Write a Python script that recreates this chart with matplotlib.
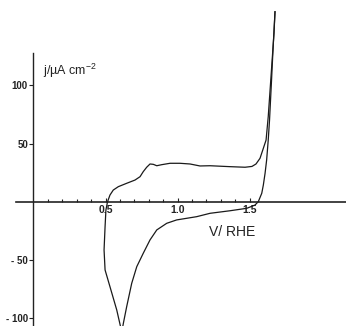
import matplotlib
matplotlib.use("Agg")
import matplotlib.pyplot as plt
from matplotlib.ticker import FixedLocator, FixedFormatter

# ── données (V vs RHE, µA cm-2) ────────────────────────────
# balayage cathodique : du haut (1.68 V) jusqu'au pic de réduction puis remontée
v_cath = [1.677, 1.663, 1.653, 1.639, 1.630, 1.619, 1.608, 1.596, 1.585, 1.561,
          1.538, 1.481, 1.365, 1.226, 1.133, 0.994, 0.925, 0.856, 0.809, 0.762,
          0.717, 0.682, 0.647, 0.624, 0.613, 0.578, 0.531, 0.497, 0.490, 0.497,
          0.503, 0.514]
j_cath = [163.4, 130.5, 104.7, 70.3, 53.1, 36.0, 24.5, 14.4, 7.3, 0.1,
          -2.8, -5.6, -7.7, -9.9, -12.8, -15.6, -18.5, -24.2, -32.8, -44.3,
          -55.8, -70.1, -90.2, -104.5, -112.0, -93.0, -73.0, -58.6, -41.4, -21.4,
          -7.0, 0.0]

# balayage anodique
v_anod = [0.514, 0.531, 0.554, 0.589, 0.647, 0.705, 0.740, 0.762, 0.786, 0.809,
          0.832, 0.856, 0.890, 0.948, 1.017, 1.087, 1.156, 1.226, 1.365, 1.469,
          1.517, 1.545, 1.573, 1.596, 1.615, 1.630, 1.654, 1.670, 1.677]
j_anod = [0.0, 5.8, 10.1, 13.0, 15.9, 18.7, 21.6, 25.9, 29.7, 32.5,
          32.2, 31.0, 31.9, 33.1, 33.1, 32.5, 30.8, 31.0, 30.2, 29.7,
          30.4, 32.5, 37.4, 46.0, 53.1, 73.2, 116.2, 144.9, 163.4]

y_ticks = [-100, -50, 50, 100]
y_ticklabels = ["- 100", "- 50", "50", "100"]
x_ticks = [0.5, 1.0, 1.5]
x_ticklabels = ["0.5", "1.0", "1.5"]
x_minor = [0.1, 0.2, 0.3, 0.4, 0.6, 0.7, 0.8, 0.9, 1.1, 1.2, 1.3, 1.4]

# ── figure ────────────────────────────────────────────────
plt.rcParams['font.family'] = ['Liberation Sans', 'DejaVu Sans']
plt.rcParams['mathtext.default'] = 'regular'
fig = plt.figure(figsize=(3.46, 3.26), dpi=100)
ax = fig.add_axes([0, 0, 1, 1])

ax.plot(v_cath, j_cath, color='#1a1a1a', lw=0.9)
ax.plot(v_anod, j_anod, color='#1a1a1a', lw=0.9)

ax.set_xlim(-0.2326, 2.170)
ax.set_ylim(-106.8, 173.5)

for s in ['top', 'right']:
    ax.spines[s].set_visible(False)
ax.spines['left'].set_position(('data', 0))
ax.spines['bottom'].set_position(('data', 0))
ax.spines['left'].set_bounds(-106.8, 128)
ax.spines['bottom'].set_bounds(-0.12, 2.17)
ax.spines['left'].set_linewidth(1.0)
ax.spines['bottom'].set_linewidth(1.2)
ax.spines['left'].set_color('#222222')
ax.spines['bottom'].set_color('#222222')

ax.xaxis.set_major_locator(FixedLocator(x_ticks))
ax.xaxis.set_major_formatter(FixedFormatter(x_ticklabels))
ax.xaxis.set_minor_locator(FixedLocator(x_minor))
ax.tick_params(axis='x', which='major', direction='in', length=3, width=0.8,
               pad=2, labelsize=7.5, colors='#222222')
ax.tick_params(axis='x', which='minor', direction='in', length=2, width=0.8,
               colors='#222222')
for lab in ax.get_xticklabels():
    lab.set_fontweight('bold')

ax.yaxis.set_major_locator(FixedLocator(y_ticks))
ax.yaxis.set_major_formatter(FixedFormatter(y_ticklabels))
ax.tick_params(axis='y', which='major', direction='out', length=3, width=0.8,
               pad=1, labelsize=7, colors='#222222')
for lab in ax.get_yticklabels():
    lab.set_fontweight('bold')

ax.text(0.124, 0.755, "j/µA cm$^{-2}$", transform=ax.transAxes,
        fontsize=9, color='#222222', ha='left', va='bottom')
ax.text(0.67, 0.288, "V/ RHE", transform=ax.transAxes,
        fontsize=10, color='#222222', ha='center', va='center')

fig.savefig("out.png", dpi=100)
